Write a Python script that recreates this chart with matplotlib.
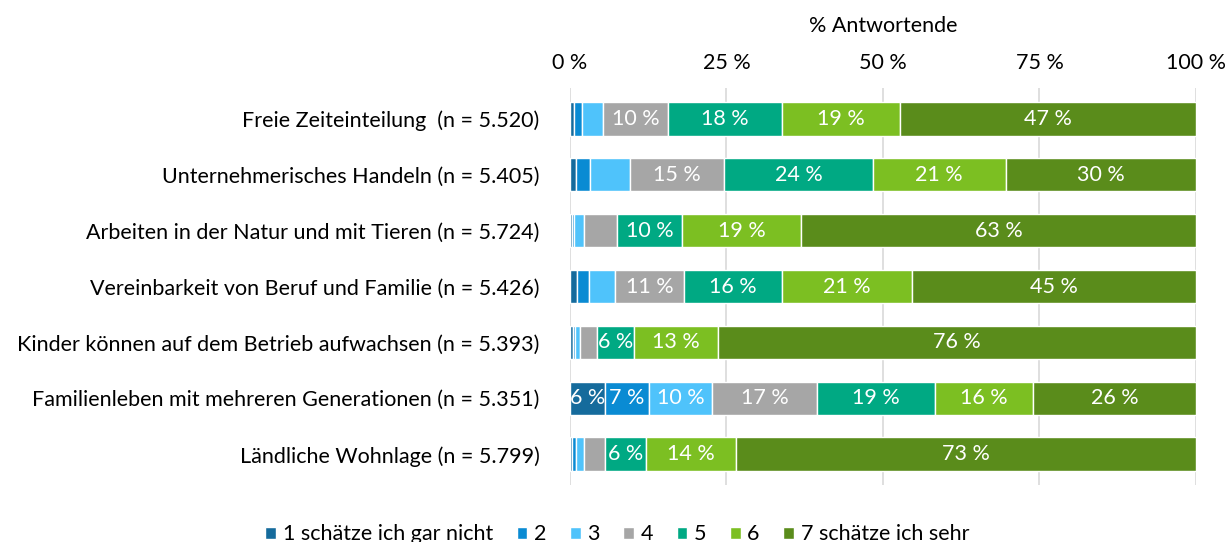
import matplotlib.pyplot as plt
import numpy as np

# categories (top to bottom) and answer shares in % (1 = gar nicht ... 7 = sehr)
categories = [
    "Freie Zeiteinteilung  (n = 5.520)",
    "Unternehmerisches Handeln (n = 5.405)",
    "Arbeiten in der Natur und mit Tieren (n = 5.724)",
    "Vereinbarkeit von Beruf und Familie (n = 5.426)",
    "Kinder können auf dem Betrieb aufwachsen (n = 5.393)",
    "Familienleben mit mehreren Generationen (n = 5.351)",
    "Ländliche Wohnlage (n = 5.799)",
]
s1 = [0.6, 1.0, 0.3, 1.1, 0.5, 5.6, 0.4]
s2 = [1.3, 2.2, 0.4, 1.9, 0.3, 7.0, 0.5]
s3 = [3.4, 6.4, 1.5, 4.2, 0.8, 10.1, 1.4]
s4 = [10.3, 15.0, 5.3, 11.0, 2.8, 16.8, 3.3]
s5 = [18.2, 23.8, 10.4, 15.7, 5.9, 18.8, 6.5]
s6 = [18.9, 21.2, 19.0, 20.8, 13.4, 15.7, 14.5]
s7 = [47.3, 30.4, 63.1, 45.3, 76.3, 26.0, 73.4]
series_names = ["1 schätze ich gar nicht", "2", "3", "4", "5", "6", "7 schätze ich sehr"]
colors = ["#156b9c", "#0a8bd3", "#4fc3fb", "#a6a6a6", "#00a983", "#7cbf22", "#5a8c1b"]
ticks = [0, 25, 50, 75, 100]
tick_labels = ["0 %", "25 %", "50 %", "75 %", "100 %"]
# small segments without label in the original
unlabelled = {(1, 2)}

plt.rcParams['font.family'] = ['Lato', 'DejaVu Sans']
fs = 15.5

fig = plt.figure(figsize=(12.27, 5.42), dpi=100)
ax = fig.add_axes([0.4645, 0.1052, 0.5102, 0.7324])

data = [s1, s2, s3, s4, s5, s6, s7]
y = np.arange(len(categories))
left = np.zeros(len(categories))
for k, (vals, col, name) in enumerate(zip(data, colors, series_names)):
    vals = np.array(vals)
    ax.barh(y, vals, left=left, height=0.6, color=col, edgecolor="white",
            linewidth=1.0, label=name, zorder=3)
    for i, v in enumerate(vals):
        if v >= 5.5 and (i, k) not in unlabelled:
            ax.text(left[i] + v / 2, y[i], f"{v:.0f} %", ha="center", va="center",
                    color="white", fontsize=fs, zorder=4)
    left += vals

ax.set_xlim(0, 100)
ax.set_ylim(len(categories) - 0.45, -0.55)
ax.set_xticks(ticks)
ax.set_xticklabels(tick_labels, fontsize=fs)
ax.xaxis.tick_top()
ax.xaxis.set_label_position("top")
ax.set_xlabel("% Antwortende", fontsize=fs, labelpad=15)
ax.tick_params(axis="x", length=0, pad=11)
ax.set_yticks(y)
ax.set_yticklabels(categories, fontsize=fs)
ax.tick_params(axis="y", length=0, pad=22)
ax.grid(axis="x", color="#d9d9d9", linewidth=1.2, zorder=0)
for s in ax.spines.values():
    s.set_visible(False)

fig.legend(loc="lower center", bbox_to_anchor=(0.503, -0.04), ncol=7, frameon=False,
           fontsize=fs, handlelength=0.5, handleheight=0.5, handletextpad=0.3,
           columnspacing=1.1)

plt.savefig("out.png", dpi=100)
plt.close()
